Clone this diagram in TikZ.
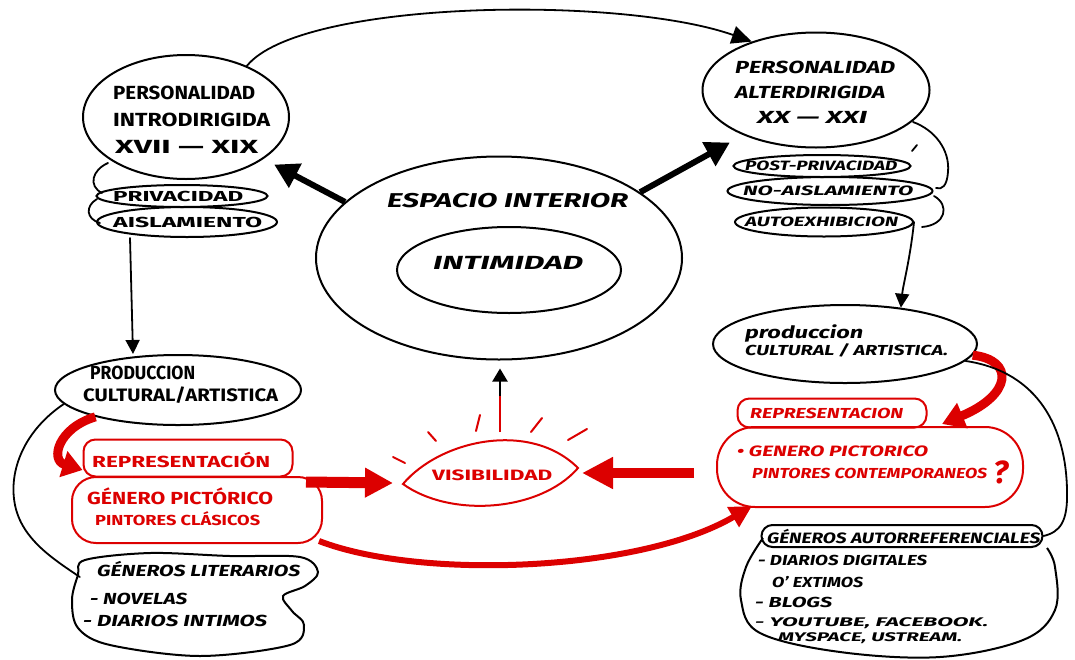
\documentclass[tikz,border=0pt]{standalone}
\usepackage{graphicx}
\usepackage{fontspec}
\setmainfont{Fira Sans}
\usetikzlibrary{shapes.geometric,arrows.meta}
\definecolor{hred}{RGB}{220,0,0}
\newcommand\hw[3]{\resizebox{#2pt}{\height}{\fontsize{#1pt}{#1pt}\selectfont\bfseries #3}}
\begin{document}
\begin{tikzpicture}[x=1pt,y=-1pt,
  outl/.style={draw=black,line width=2pt},
  redo/.style={draw=hred,line width=2pt},
  thinl/.style={draw=black,line width=1.8pt,line cap=round},
  oval/.style={ellipse,outl,inner sep=0pt},
  rbox/.style={rectangle,redo,inner sep=0pt},
  lbl/.style={inner sep=0pt,anchor=base west},
  rlbl/.style={lbl,text=hred},
  fatblk/.style={line width=6pt,-{Triangle[length=24pt,width=26pt]}},
  ray/.style={hred,line width=2pt,line cap=round}]
\useasboundingbox (0,0) rectangle (1075,659);

% ---------- top left
\node[oval,minimum width=206,minimum height=124] (intro) at (186,117) {};
\node[lbl] (intro1) at (113,99.5) {\hw{19}{142}{PERSONALIDAD}};
\node[lbl] (intro2) at (113,126.5) {\hw{19}{157}{INTRODIRIGIDA}};
\node[lbl] (intro3) at (115,153.5) {\hw{19}{143}{XVII — XIX}};
\node[oval,minimum width=171,minimum height=22] (priv) at (182,196) {};
\node[lbl] (privt) at (113,201) {\hw{14.5}{130}{PRIVACIDAD}};
\node[oval,minimum width=180,minimum height=30] (aisl) at (187,222) {};
\node[lbl] (aislt) at (113,227) {\hw{14.5}{149}{AISLAMIENTO}};
\draw[thinl] (108,163) .. controls (92,170) and (88,186) .. (102,193);
\draw[thinl] (97,199) .. controls (85,206) and (86,219) .. (100,223);

% ---------- top right
\node[oval,minimum width=227,minimum height=115] (alter) at (816,90) {};
\node[lbl] (alter1) at (735,73) {\hw{17.5}{160}{\itshape PERSONALIDAD}};
\node[lbl] (alter2) at (735,98) {\hw{17.5}{150}{\itshape ALTERDIRIGIDA}};
\node[lbl] (alter3) at (757,123) {\hw{17.5}{110}{\itshape XX — XXI}};
\node[oval,minimum width=177,minimum height=22] (post) at (822,166) {};
\node[lbl] (postt) at (745,170.5) {\hw{13.5}{152}{\itshape POST-PRIVACIDAD}};
\node[oval,minimum width=205,minimum height=28] (noais) at (830,191) {};
\node[lbl] (noaist) at (743,195.5) {\hw{13.5}{170}{\itshape NO-AISLAMIENTO}};
\node[oval,minimum width=178,minimum height=29] (autoe) at (824,222) {};
\node[lbl] (autoet) at (745,226.5) {\hw{13.5}{153}{\itshape AUTOEXHIBICION}};
\draw[thinl] (913,122) .. controls (935,130) and (950,150) .. (948,172) .. controls (947,186) and (942,190) .. (936,188);
\draw[thinl] (912,151) -- (917,145);
\draw[thinl] (934,196) .. controls (950,205) and (946,225) .. (922,227);

% ---------- centre
\node[oval,minimum width=366,minimum height=203] (espacio) at (499,258) {};
\node[lbl] (espaciot) at (387,207) {\hw{20}{241}{\itshape ESPACIO INTERIOR}};
\node[oval,minimum width=224,minimum height=86] (intim) at (509,270) {};
\node[lbl] (intimt) at (433,269) {\hw{19}{150}{\itshape INTIMIDAD}};

\draw[fatblk] (espacio.160) -- ([shift={(10,6)}]intro.-28);
\draw[fatblk] (espacio.25) -- ([shift={(-12,8)}]alter.211);
\draw[thinl,-{Triangle[length=20pt,width=18pt]}] (intro.40) .. controls (300,0) and (620,-5) .. (alter.143);

% ---------- left production
\node[oval,minimum width=246,minimum height=70] (prodL) at (178,390) {};
\node[lbl] (prodL1) at (90,379.5) {\hw{19}{105}{PRODUCCION}};
\node[lbl] (prodL2) at (83,401.5) {\hw{18}{195}{CULTURAL/ARTISTICA}};
\draw[thinl,-{Triangle[length=14pt,width=14pt]}] ([shift={(-57,0)}]aisl.south) -- ([shift={(-45,0)}]prodL.north);

\node[rbox,rounded corners=12,minimum width=209,minimum height=37] (repL) at (188,458) {};
\node[rlbl] (repLt) at (92,467) {\hw{16}{178}{REPRESENTACIÓN}};
\node[rbox,rounded corners=24,minimum width=250,minimum height=66] (genL) at (197,510) {};
\node[rlbl] (genL1) at (87,504) {\hw{17.5}{186}{GÉNERO PICTÓRICO}};
\node[rlbl] (genL2) at (95,525) {\hw{14.5}{165}{PINTORES CLÁSICOS}};
\draw[hred,line width=9pt,-{Triangle[length=20pt,width=26pt]}] (prodL.198) .. controls (58,428) and (50,460) .. ([shift={(0,12)}]repL.west);

% ---------- generos literarios
\node[minimum width=246,minimum height=105,inner sep=0pt] (genlit) at (195,603) {};
\draw[outl] plot[smooth cycle,tension=0.55] coordinates {(85,560) (150,553) (230,556) (300,557) (318,572) (305,586) (283,596) (292,611) (304,625) (290,645) (200,656) (110,645) (78,628) (72,600) (78,575)};
\node[lbl] (gl1) at (97,576) {\hw{16}{203}{\itshape GÉNEROS LITERARIOS}};
\node[lbl] (gl2) at (90,604) {\hw{16}{97}{\itshape - NOVELAS}};
\node[lbl] (gl3) at (83,626) {\hw{16}{184}{\itshape - DIARIOS INTIMOS}};
\draw[thinl] (prodL.187) .. controls (25,430) and (8,470) .. (15,505) .. controls (22,540) and (55,560) .. ([shift={(8,-26)}]genlit.west);

% ---------- visibilidad
\coordinate (visL) at (403,484);
\coordinate (visR) at (578,468);
\coordinate (visT) at (500,432);
\draw[redo] (visL) .. controls (440,440) and (530,420) .. (visR) .. controls (540,512) and (450,518) .. cycle;
\node[rlbl] (vist) at (432,480.5) {\hw{15}{120}{VISIBILIDAD}};
\draw[ray] (393,457) -- (405,463);
\draw[ray] (428,432) -- (436,441);
\draw[ray] (480,415) -- (476,431);
\draw[ray] (542,418) -- (531,432);
\draw[ray] (587,429) -- (568,440);
\draw[hred,line width=2pt] (visT) -- ([shift={(0,-36)}]visT);
\draw[line width=2pt,-{Triangle[length=13pt,width=15pt]}] ([shift={(0,-36)}]visT) -- ([shift={(1,8)}]espacio.south);

% ---------- right production
\node[oval,minimum width=264,minimum height=78] (prodR) at (845,344) {};
\node[lbl] (prodR1) at (745,338) {\hw{17}{118}{\itshape produccion}};
\node[lbl] (prodR2) at (745,355) {\hw{14.5}{203}{\itshape CULTURAL / ARTISTICA.}};
\draw[thinl,-{Triangle[length=14pt,width=14pt]}] (autoe.east) .. controls (910,260) and (903,285) .. (prodR.33);

\node[rbox,rounded corners=12,minimum width=189,minimum height=29] (repR) at (832,413) {};
\node[rlbl] (repRt) at (750,418) {\hw{14.5}{153}{\itshape REPRESENTACION}};
\node[rbox,rounded corners=38,minimum width=306,minimum height=80] (genR) at (870,467) {};
\node[rlbl] (genR1) at (737,456) {\hw{15}{191}{\itshape • GENERO PICTORICO}};
\node[rlbl] (genR2) at (752,478) {\hw{14.5}{235}{\itshape PINTORES CONTEMPORANEOS}};
\node[rlbl] (genRq) at (993,483) {\fontsize{32pt}{32pt}\selectfont\bfseries\itshape ?};
\draw[hred,line width=9pt,-{Triangle[length=22pt,width=26pt]}] (prodR.-5) .. controls (1015,360) and (1012,395) .. ([shift={(72,-2)}]genR.north);

% red arrows to visibilidad
\draw[hred,line width=11pt,-{Triangle[length=28pt,width=28pt]}] ([shift={(-17,6)}]genL.north east) -- ([shift={(-10,-1)}]visL);
\draw[hred,line width=10pt,-{Triangle[length=31pt,width=30pt]}] ([shift={(-22,6)}]genR.west) -- ([shift={(4,5)}]visR);
\draw[hred,line width=6pt,-{Triangle[length=22pt,width=22pt]}] ([shift={(-4,-3)}]genL.south east) .. controls (420,580) and (640,572) .. ([shift={(-118,-2)}]genR.south);

% ---------- generos autorreferenciales
\draw[outl] plot[smooth,tension=0.6] coordinates {(763,538) (746,567) (741,600) (760,633) (840,652) (940,657) (1023,640) (1055,610) (1055,567) (1047,548)};
\node[rectangle,outl,rounded corners=11,minimum width=281,minimum height=22] (autoH) at (902,536) {};
\node[lbl] (ah) at (767,543) {\hw{15}{273}{\itshape GÉNEROS AUTORREFERENCIALES}};
\node[lbl] (a1) at (758,565) {\hw{14.5}{169}{\itshape - DIARIOS DIGITALES}};
\node[lbl] (a2) at (772,587) {\hw{14.5}{91}{\itshape O' EXTIMOS}};
\node[lbl] (a3) at (755,607) {\hw{14.5}{77}{\itshape - BLOGS}};
\node[lbl] (a4) at (755,626) {\hw{12.5}{233}{\itshape - YOUTUBE, FACEBOOK.}};
\node[lbl] (a5) at (778,641) {\hw{12.5}{184}{\itshape MYSPACE, USTREAM.}};
\draw[thinl] (prodR.-8) .. controls (1040,372) and (1066,430) .. (1067,490) .. controls (1068,522) and (1060,532) .. (autoH.east);
\end{tikzpicture}
\end{document}
